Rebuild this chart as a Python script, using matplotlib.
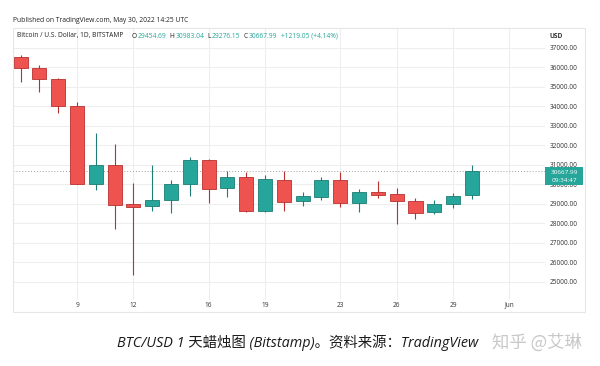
import matplotlib
matplotlib.use("Agg")
import matplotlib.pyplot as plt
from matplotlib.patches import Rectangle

# ---- data (May 2022, BTC/USD daily, Bitstamp) ----
days = [6, 7, 8, 9, 10, 11, 12, 13, 14, 15, 16, 17, 18, 19, 20, 21, 22, 23, 24, 25, 26, 27, 28, 29, 30]
opens = [36523, 35990, 35430, 34010, 30030, 30985, 28990, 28880, 29210, 30026, 31256, 29836, 30385,
         28626, 30215, 29138, 29359, 30231, 29051, 29600, 29497, 29154, 28574, 28985, 29454.69]
highs = [36641, 36128, 35480, 34246, 32625, 32077, 30061, 30985, 30230, 31395, 31300, 30708, 30626,
         30503, 30708, 29600, 30400, 30626, 29769, 30180, 29821, 29323, 29205, 29579, 30983.04]
lows = [35272, 34759, 33682, 30000, 29718, 27718, 25359, 28656, 28521, 29426, 29035, 29377, 28600,
        28600, 28656, 28897, 29205, 28830, 28607, 29323, 27990, 28246, 28470, 28810, 29276.15]
closes = [35990, 35430, 34010, 30030, 30985, 28964, 28860, 29210, 30026, 31256, 29785, 30385, 28626,
          30282, 29118, 29395, 30231, 29051, 29600, 29477, 29154, 28554, 28985, 29395, 30667.99]

xtick_pos = [9, 12, 16, 19, 23, 26, 29, 32]
xtick_labels = ["9", "12", "16", "19", "23", "26", "29", "Jun"]
ytick_vals = list(range(25000, 38000, 1000))
last_price = 30667.99
last_time = "09:34:47"
change_abs = 1219.05
change_pct = 4.14

UP = "#26a69a"
DOWN = "#ef5350"
UP_EDGE = "#1f7d73"
DOWN_EDGE = "#b8312f"
GRID = "#eeeeee"
TXT = "#333333"
FONT = ["Open Sans", "DejaVu Sans"]

W, H = 600, 366
fig = plt.figure(figsize=(6.0, 3.66), dpi=100)
fig.patch.set_facecolor("white")


def fx(px):
    return px / W


def fy(py):
    return 1 - py / H


# outer frame
fig.patches.append(Rectangle((fx(13), fy(312)), fx(585) - fx(13), fy(28) - fy(312),
                             transform=fig.transFigure, fill=False, edgecolor="#e6e6e6",
                             linewidth=0.8, zorder=0))

ax = fig.add_axes([fx(13), fy(300), fx(545) - fx(13), fy(28) - fy(300)])
ax.set_facecolor("none")
ax.set_xlim(5.596, 33.89)
ax.set_ylim(24076.9, 38025.6)
for s in ax.spines.values():
    s.set_visible(False)

ax.set_yticks(ytick_vals)
ax.set_yticklabels([f"{v:.2f}" for v in ytick_vals], fontsize=4.7, color=TXT, family=FONT)
ax.yaxis.tick_right()
ax.tick_params(axis="y", length=0, pad=3.6)
ax.set_xticks(xtick_pos)
ax.set_xticklabels(xtick_labels, fontsize=4.7, color=TXT, family=FONT)
ax.tick_params(axis="x", length=0, pad=1.2)
ax.grid(True, color=GRID, linewidth=0.8, zorder=0)
ax.set_axisbelow(True)

# candles
width = 0.75
for d, o, h, l, c in zip(days, opens, highs, lows, closes):
    up = c >= o
    col = UP if up else DOWN
    ec = UP_EDGE if up else DOWN_EDGE
    ax.vlines(d, l, h, color=ec, linewidth=0.8, zorder=2)
    ax.bar(d, abs(c - o), bottom=min(o, c), width=width, color=col, edgecolor=ec,
           linewidth=0.6, zorder=3)

# last price dotted line
ax.axhline(last_price, color="#9e9e9e", linestyle=(0, (1, 2)), linewidth=0.7, zorder=1)

# price tag
tag_top = fy(167)
tag_bot = fy(185)
fig.patches.append(Rectangle((fx(545), tag_bot), fx(583) - fx(545), tag_top - tag_bot,
                             transform=fig.transFigure, facecolor=UP, edgecolor="none", zorder=5))
fig.text(fx(564), fy(172.5), f"{last_price:.2f}", color="white", fontsize=4.6, family=FONT,
         ha="center", va="center", zorder=6)
fig.text(fx(564), fy(180.5), last_time, color="white", fontsize=4.6, family=FONT,
         ha="center", va="center", zorder=6)

# header texts
fig.text(fx(13), fy(21), "Published on TradingView.com, May 30, 2022 14:25 UTC", fontsize=4.85,
         color="#222222", family=FONT, ha="left", va="center")
fig.text(fx(550), fy(36), "USD", fontsize=4.7, color=TXT, family=FONT, ha="left", va="center",
         weight="bold")

hy = fy(36)
HFS = 4.75
fig.text(fx(17), hy, "Bitcoin / U.S. Dollar, 1D, BITSTAMP", fontsize=HFS, color="#222222",
         family=FONT, ha="left", va="center")

# OHLC legend laid out left to right using measured text widths
renderer = fig.canvas.get_renderer()
segments = [("O", "#222222", 0.8), (f"{opens[-1]:.2f}", UP, 3.5),
            ("H", "#222222", 0.8), (f"{highs[-1]:.2f}", UP, 3.5),
            ("L", "#222222", 0.8), (f"{lows[-1]:.2f}", UP, 3.5),
            ("C", "#222222", 0.8), (f"{closes[-1]:.2f}", UP, 3.5),
            (f"+{change_abs:.2f} (+{change_pct:.2f}%)", UP, 0)]
xpos = 131.5
for s, col, gap in segments:
    t = fig.text(fx(xpos), hy, s, fontsize=HFS, color=col, family=FONT, ha="left", va="center")
    w = t.get_window_extent(renderer=renderer).width
    xpos += w + gap

# caption
fig.text(fx(117), fy(343), "BTC/USD 1 天蜡烛图 (Bitstamp)。资料来源：TradingView", fontsize=10.4,
         color="#1a1a1a", family=["Open Sans", "Noto Sans CJK SC"], style="italic",
         ha="left", va="center")
fig.text(fx(492), fy(343), "知乎 @艾琳", fontsize=12.5, color="#c8c8c8",
         family=["Noto Sans CJK SC", "DejaVu Sans"], ha="left", va="center")

fig.savefig("out.png", dpi=100, facecolor="white")
